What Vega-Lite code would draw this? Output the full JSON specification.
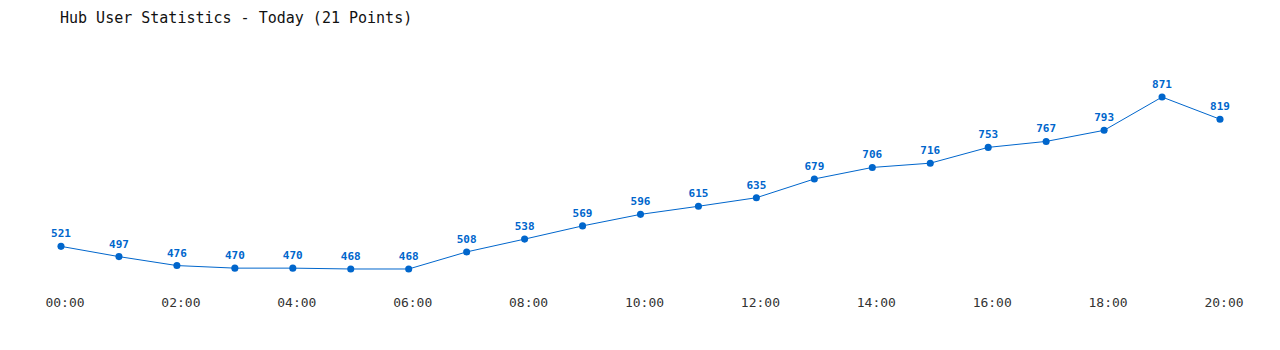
{
  "$schema": "https://vega.github.io/schema/vega-lite/v6.json",
  "autosize": "none",
  "width": 1159,
  "height": 256,
  "padding": {"left": 61, "top": 42, "right": 60, "bottom": 52},
  "background": "white",
  "config": {"view": {"stroke": null}},
  "title": {
    "text": "Hub User Statistics - Today (21 Points)",
    "anchor": "start",
    "frame": "group",
    "font": "DejaVu Sans Mono",
    "fontSize": 15,
    "fontWeight": "normal",
    "color": "#111111",
    "offset": 16,
    "dx": -1
  },
  "data": {
    "values": [
      {"hour": 0, "users": 521},
      {"hour": 1, "users": 497},
      {"hour": 2, "users": 476},
      {"hour": 3, "users": 470},
      {"hour": 4, "users": 470},
      {"hour": 5, "users": 468},
      {"hour": 6, "users": 468},
      {"hour": 7, "users": 508},
      {"hour": 8, "users": 538},
      {"hour": 9, "users": 569},
      {"hour": 10, "users": 596},
      {"hour": 11, "users": 615},
      {"hour": 12, "users": 635},
      {"hour": 13, "users": 679},
      {"hour": 14, "users": 706},
      {"hour": 15, "users": 716},
      {"hour": 16, "users": 753},
      {"hour": 17, "users": 767},
      {"hour": 18, "users": 793},
      {"hour": 19, "users": 871},
      {"hour": 20, "users": 819}
    ]
  },
  "encoding": {
    "x": {
      "field": "hour",
      "type": "quantitative",
      "scale": {"domain": [0, 20], "nice": false, "zero": false},
      "axis": {
        "title": null,
        "values": [0, 2, 4, 6, 8, 10, 12, 14, 16, 18, 20],
        "labelExpr": "(datum.value < 10 ? '0' : '') + datum.value + ':00'",
        "domain": false,
        "ticks": false,
        "grid": false,
        "labelFont": "DejaVu Sans Mono",
        "labelFontSize": 13,
        "labelColor": "#333333",
        "labelPadding": 5,
        "labelBaseline": "middle",
        "labelOffset": 4,
        "labelFlush": false,
        "labelOverlap": false,
        "translate": 0
      }
    },
    "y": {
      "field": "users",
      "type": "quantitative",
      "scale": {"domain": [400, 1000], "nice": false, "zero": false},
      "axis": null
    }
  },
  "layer": [
    {"mark": {"type": "line", "color": "#0066CC", "strokeWidth": 1}},
    {"mark": {"type": "point", "filled": true, "color": "#0066CC", "size": 50, "opacity": 1}},
    {
      "mark": {
        "type": "text",
        "color": "#0066CC",
        "font": "DejaVu Sans Mono",
        "fontSize": 11,
        "fontWeight": "bold",
        "dy": -12,
        "baseline": "middle"
      },
      "encoding": {"text": {"field": "users", "type": "quantitative"}}
    }
  ]
}
